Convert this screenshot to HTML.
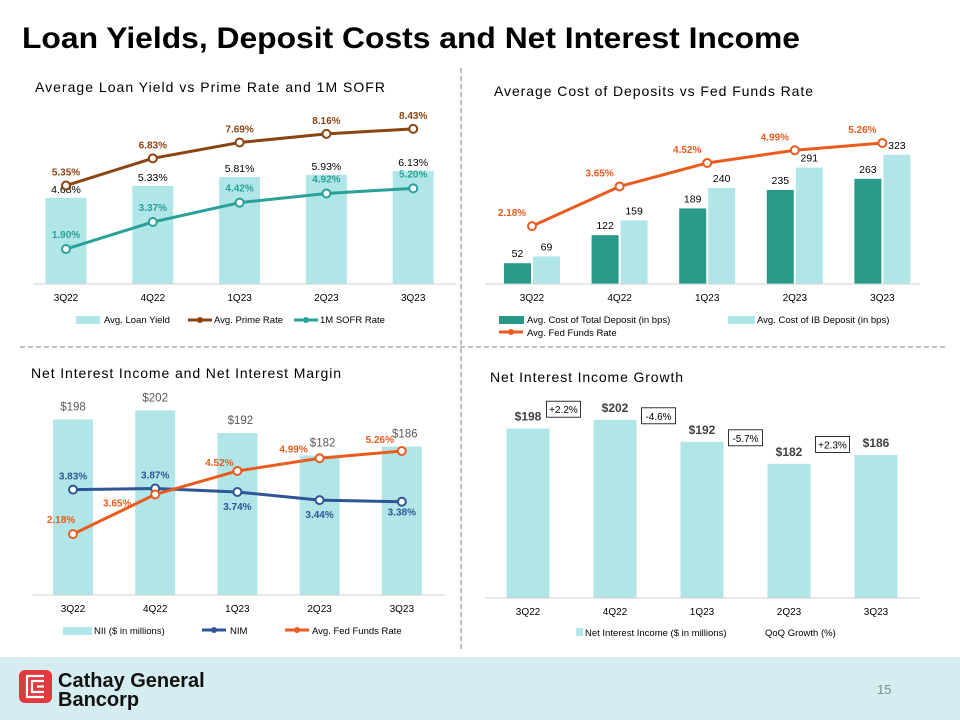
<!DOCTYPE html>
<html><head><meta charset="utf-8">
<style>
html,body{margin:0;padding:0;background:#fff;}
svg{display:block;font-family:"Liberation Sans",Arial,sans-serif;}
</style></head>
<body>
<svg id="s" width="960" height="720" viewBox="0 0 960 720" xmlns="http://www.w3.org/2000/svg">
<text x="22" y="48" font-size="30" font-weight="bold" fill="#000" textLength="778" lengthAdjust="spacingAndGlyphs">Loan Yields, Deposit Costs and Net Interest Income</text>
<line x1="461" y1="68" x2="461" y2="650" stroke="#9a9a9a" stroke-width="1.3" stroke-dasharray="5,3"/>
<line x1="20" y1="347" x2="945" y2="347" stroke="#9a9a9a" stroke-width="1.3" stroke-dasharray="5,3"/>
<text x="35" y="92" font-size="14" fill="#000" textLength="350">Average Loan Yield vs Prime Rate and 1M SOFR</text>
<text x="494" y="96" font-size="14" fill="#000" textLength="319">Average Cost of Deposits vs Fed Funds Rate</text>
<text x="31" y="378" font-size="14" fill="#000" textLength="310">Net Interest Income and Net Interest Margin</text>
<text x="490" y="382" font-size="14" fill="#000" textLength="193">Net Interest Income Growth</text>
<rect x="0" y="657" width="960" height="63" fill="#d5edf1"/>
<g>
<rect x="19" y="670" width="33" height="33" rx="6" fill="#e03a3e"/>
<path d="M44 676 H27 V697 H44 M44 681 H32 V692 H44 M44 686.5 H37" fill="none" stroke="#fff" stroke-width="2.2"/>
<text x="58" y="687" font-size="20" font-weight="bold" fill="#111">Cathay General</text>
<text x="58" y="706" font-size="20" font-weight="bold" fill="#111">Bancorp</text>
</g>
<text x="877" y="694" font-size="13" fill="#7f8c8d">15</text>
</svg>
<script>
const cats=["3Q22","4Q22","1Q23","2Q23","3Q23"];
const loanYield=[4.68,5.33,5.81,5.93,6.13];
const primeRate=[5.35,6.83,7.69,8.16,8.43];
const sofrRate=[1.90,3.37,4.42,4.92,5.20];
const costTotal=[52,122,189,235,263];
const costIB=[69,159,240,291,323];
const fedFunds=[2.18,3.65,4.52,4.99,5.26];
const nii=[198,202,192,182,186];
const nim=[3.83,3.87,3.74,3.44,3.38];
const qoq=["+2.2%","-4.6%","-5.7%","+2.3%"];

const S=document.getElementById('s');
const NS="http://www.w3.org/2000/svg";
function mk(tag,at,txt){const e=document.createElementNS(NS,tag);for(const k in at)e.setAttribute(k,at[k]);if(txt!==undefined)e.textContent=txt;S.appendChild(e);return e;}
const TEAL_L="#b0e6e8",TEAL_D="#2a9a88",BROWN="#8b4513",SOFR="#2aa198",ORANGE="#ea5b1e",BLUE="#2f5597";

function axisLine(x1,x2,y,name){const e=mk('line',{x1:x1,x2:x2,y1:y,y2:y,stroke:"#d0d0d0","stroke-width":1});

}
function catLabels(xf,y,name){cats.forEach((c,i)=>{const e=mk('text',{x:xf(i),y:y,"font-size":10,"text-anchor":"middle",fill:"#000"},c);

});}
function line(vals,xf,yf,col,name){const pts=vals.map((v,i)=>xf(i)+","+yf(v)).join(" ");
const p=mk('polyline',{points:pts,fill:"none",stroke:col,"stroke-width":3,"stroke-linejoin":"round"});


vals.forEach((v,i)=>{const c=mk('circle',{cx:xf(i),cy:yf(v),r:4,fill:"#fff",stroke:col,"stroke-width":2});

});}
function lbl(x,y,t,col,bold,size,name,anchor){const e=mk('text',{x:x,y:y,"font-size":size||10,"font-weight":bold?"bold":"normal","text-anchor":anchor||"middle",fill:col},t);

}
function legRect(x,y,w,h,col,name){const e=mk('rect',{x:x,y:y,width:w,height:h,fill:col});

}
function legLine(x,y,col,name){const e=mk('line',{x1:x,x2:x+24,y1:y,y2:y,stroke:col,"stroke-width":3});


const c=mk('circle',{cx:x+12,cy:y,r:3,fill:col});

}

/* Chart 1 */
(function(){const base=284,sc=18.4;const x=i=>66+i*86.8;const y=v=>base-v*sc;
loanYield.forEach((v,i)=>{const r=mk('rect',{x:x(i)-20.5,y:y(v),width:41,height:base-y(v),fill:TEAL_L});


lbl(x(i),y(v)-5,v.toFixed(2)+"%","#000",false,10.5,'loan-yield-label-'+cats[i]);});
axisLine(33,456,base,'chart1-x-axis');
catLabels(x,base+17,'chart1-x-label');
line(primeRate,x,y,BROWN,'prime-rate');
line(sofrRate,x,y,SOFR,'sofr-rate');
primeRate.forEach((v,i)=>lbl(x(i),y(v)-10,v.toFixed(2)+"%",BROWN,true,10,'prime-label-'+cats[i]));
sofrRate.forEach((v,i)=>lbl(x(i),y(v)-11,v.toFixed(2)+"%",SOFR,true,10,'sofr-label-'+cats[i]));
legRect(76,316,24,8,TEAL_L,'legend-loan-yield');lbl(104,323,"Avg. Loan Yield","#000",false,9.5,'legend-loan-yield-text','start');
legLine(188,320,BROWN,'legend-prime-rate');lbl(214,323,"Avg. Prime Rate","#000",false,9.5,'legend-prime-text','start');
legLine(294,320,SOFR,'legend-sofr');lbl(320,323,"1M SOFR Rate","#000",false,9.5,'legend-sofr-text','start');})();

/* Chart 2 */
(function(){const base=284,sc=0.40,fs=27;const x=i=>532+i*87.6;const y=v=>base-v*sc;const yf=v=>285-v*fs;
costTotal.forEach((v,i)=>{const r=mk('rect',{x:x(i)-28,y:y(v),width:27,height:base-y(v),fill:TEAL_D});


lbl(x(i)-14.5,y(v)-6,String(v),"#000",false,10.5,'cost-total-label-'+cats[i]);});
costIB.forEach((v,i)=>{const r=mk('rect',{x:x(i)+1,y:y(v),width:27,height:base-y(v),fill:TEAL_L});


lbl(x(i)+14.5,y(v)-6,String(v),"#000",false,10.5,'cost-ib-label-'+cats[i]);});
axisLine(485,920,base,'chart2-x-axis');
catLabels(x,base+17,'chart2-x-label');
line(fedFunds,x,yf,ORANGE,'chart2-fed-funds');
fedFunds.forEach((v,i)=>lbl(x(i)-20,yf(v)-10,v.toFixed(2)+"%",ORANGE,true,10,'chart2-fed-label-'+cats[i]));
legRect(499,316,25,8,TEAL_D,'legend-cost-total');lbl(527,323,"Avg. Cost of Total Deposit (in bps)","#000",false,9.5,'legend-cost-total-text','start');
legRect(728,316,27,8,TEAL_L,'legend-cost-ib');lbl(757,323,"Avg. Cost of IB Deposit (in bps)","#000",false,9.5,'legend-cost-ib-text','start');
legLine(499,332,ORANGE,'legend-chart2-fed');lbl(527,336,"Avg. Fed Funds Rate","#000",false,9.5,'legend-chart2-fed-text','start');})();

/* Chart 3 */
(function(){const base=595,sc=2.25,mn=120;const x=i=>73+i*82.2;const y=v=>base-(v-mn)*sc;const yr=v=>593-v*27;
nii.forEach((v,i)=>{const r=mk('rect',{x:x(i)-20,y:y(v),width:40,height:base-y(v),fill:TEAL_L});


lbl(x(i)+(i>=2?3:0),y(v)-9,"$"+v,"#595959",false,11.5,'nii-label-'+cats[i]);});
axisLine(33,445,base,'chart3-x-axis');
catLabels(x,base+17,'chart3-x-label');
line(nim,x,yr,BLUE,'nim');
line(fedFunds,x,yr,ORANGE,'chart3-fed-funds');
const nimOff=[-10,-10,18,18,14];
nim.forEach((v,i)=>lbl(x(i),yr(v)+nimOff[i],v.toFixed(2)+"%",BLUE,true,10,'nim-label-'+cats[i]));
const fdx=[-12,-38,-18,-26,-22],fdy=[-11,12,-5,-6,-8];
fedFunds.forEach((v,i)=>lbl(x(i)+fdx[i],yr(v)+fdy[i],v.toFixed(2)+"%",ORANGE,true,10,'chart3-fed-label-'+cats[i]));
legRect(63,627,29,8,TEAL_L,'legend-nii');lbl(94,634,"NII ($ in millions)","#000",false,9.5,'legend-nii-text','start');
legLine(202,630,BLUE,'legend-nim');lbl(230,634,"NIM","#000",false,9.5,'legend-nim-text','start');
legLine(285,630,ORANGE,'legend-chart3-fed');lbl(312,634,"Avg. Fed Funds Rate","#000",false,9.5,'legend-chart3-fed-text','start');})();

/* Chart 4 */
(function(){const base=598,sc=2.2,mn=121;const x=i=>528+i*87;const y=v=>base-(v-mn)*sc;
nii.forEach((v,i)=>{const r=mk('rect',{x:x(i)-21.5,y:y(v),width:43,height:base-y(v),fill:TEAL_L});


lbl(x(i),y(v)-8,"$"+v,"#404040",true,12,'nii-growth-label-'+cats[i]);});
axisLine(485,920,base,'chart4-x-axis');
catLabels(x,base+17,'chart4-x-label');
qoq.forEach((t,i)=>{const cx=(x(i)+x(i+1))/2+(i==0?-8:0),cy=(y(nii[i])+y(nii[i+1]))/2-15;
const r=mk('rect',{x:cx-17,y:cy-8,width:34,height:16,fill:"#fff",stroke:"#000","stroke-width":0.8});


lbl(cx,cy+4,t,"#000",false,10,'qoq-label-'+cats[i+1]);});
legRect(576,628,7,8,TEAL_L,'legend-nii-growth');lbl(585,636,"Net Interest Income ($ in millions)","#000",false,9.5,'legend-nii-growth-text','start');
lbl(765,636,"QoQ Growth (%)","#000",false,9.5,'legend-qoq-text','start');})();
</script>
</body></html>
